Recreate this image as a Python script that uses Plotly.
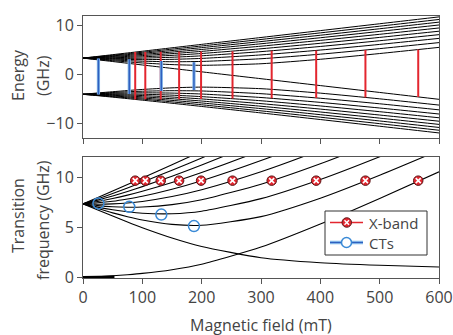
import plotly.graph_objects as go
from plotly.subplots import make_subplots

# ---------------- data ----------------
field_mT = [0, 25, 50, 75, 100, 150, 200, 300, 400, 500, 600]

# energy levels (GHz) – upper multiplet (11) and lower multiplet (9)
upper_levels = [
    [3.32, 2.97, 2.62, 2.27, 1.92, 1.22, 0.52, -0.88, -2.28, -3.68, -5.08],
    [3.32, 3.05, 2.79, 2.55, 2.33, 2.00, 1.85, 2.17, 3.08, 4.25, 5.51],
    [3.32, 3.12, 2.95, 2.80, 2.69, 2.58, 2.64, 3.19, 4.12, 5.25, 6.48],
    [3.32, 3.19, 3.10, 3.04, 3.01, 3.07, 3.26, 3.97, 4.96, 6.11, 7.34],
    [3.32, 3.27, 3.25, 3.26, 3.31, 3.49, 3.79, 4.64, 5.69, 6.86, 8.10],
    [3.32, 3.34, 3.39, 3.47, 3.58, 3.88, 4.26, 5.22, 6.34, 7.54, 8.80],
    [3.32, 3.41, 3.52, 3.66, 3.83, 4.23, 4.69, 5.75, 6.93, 8.17, 9.46],
    [3.32, 3.47, 3.65, 3.85, 4.07, 4.55, 5.08, 6.24, 7.47, 8.76, 10.07],
    [3.32, 3.54, 3.78, 4.03, 4.30, 4.86, 5.45, 6.69, 7.98, 9.30, 10.65],
    [3.32, 3.61, 3.90, 4.20, 4.51, 5.15, 5.79, 7.12, 8.46, 9.82, 11.19],
    [3.32, 3.67, 4.02, 4.37, 4.72, 5.42, 6.12, 7.52, 8.92, 10.32, 11.72],
]
lower_levels = [
    [-4.06, -3.78, -3.53, -3.29, -3.07, -2.74, -2.59, -2.91, -3.82, -4.98, -6.25],
    [-4.06, -3.86, -3.69, -3.54, -3.43, -3.32, -3.38, -3.93, -4.86, -5.99, -7.22],
    [-4.06, -3.93, -3.84, -3.78, -3.75, -3.81, -4.00, -4.71, -5.70, -6.85, -8.07],
    [-4.06, -4.00, -3.98, -4.00, -4.04, -4.23, -4.53, -5.37, -6.43, -7.60, -8.84],
    [-4.06, -4.07, -4.12, -4.20, -4.31, -4.61, -5.00, -5.96, -7.07, -8.28, -9.54],
    [-4.06, -4.14, -4.26, -4.40, -4.57, -4.96, -5.43, -6.49, -7.66, -8.91, -10.19],
    [-4.06, -4.21, -4.39, -4.59, -4.81, -5.29, -5.82, -6.97, -8.21, -9.49, -10.81],
    [-4.06, -4.28, -4.52, -4.77, -5.03, -5.60, -6.19, -7.43, -8.72, -10.04, -11.38],
    [-4.06, -4.34, -4.64, -4.94, -5.25, -5.88, -6.53, -7.85, -9.20, -10.56, -11.93],
]

# transition frequencies (GHz)
transitions = [
    [7.38, 8.01, 8.66, 9.31, 9.97, 11.30, 12.65, 15.37, 18.12, 20.88, 23.65],
    [7.38, 7.88, 8.42, 8.97, 9.55, 10.74, 11.98, 14.54, 17.18, 19.87, 22.58],
    [7.38, 7.75, 8.17, 8.62, 9.10, 10.15, 11.27, 13.66, 16.19, 18.80, 21.45],
    [7.38, 7.62, 7.91, 8.25, 8.64, 9.52, 10.51, 12.72, 15.14, 17.66, 20.26],
    [7.38, 7.48, 7.64, 7.87, 8.14, 8.84, 9.69, 11.71, 14.00, 16.45, 19.00],
    [7.38, 7.34, 7.37, 7.46, 7.62, 8.11, 8.79, 10.59, 12.76, 15.14, 17.64],
    [7.38, 7.20, 7.08, 7.04, 7.06, 7.30, 7.79, 9.35, 11.39, 13.71, 16.17],
    [7.38, 7.05, 6.78, 6.58, 6.44, 6.39, 6.64, 7.90, 9.82, 12.10, 14.56],
    [7.38, 6.91, 6.47, 6.09, 5.76, 5.32, 5.23, 6.10, 7.94, 10.24, 12.73],
    [7.38, 6.75, 6.15, 5.56, 4.99, 3.96, 3.11, 1.98, 1.48, 1.22, 1.05],
    [0.00, 0.08, 0.17, 0.28, 0.41, 0.78, 1.33, 3.05, 5.36, 7.92, 10.59],
]
low_field_B = [0, 25, 53]
low_field_f = [0.0, 0.02, 0.04]

# X-band (9.7 GHz) transitions
xband_B = [88, 105, 131, 162, 199, 252, 318, 393, 476, 565]
xband_f = [9.7] * 10
xband_low = [-5.10, -5.09, -5.10, -5.07, -5.00, -4.93, -4.87, -4.79, -4.69, -4.60]
xband_high = [4.55, 4.58, 4.64, 4.68, 4.69, 4.74, 4.81, 4.89, 4.97, 5.07]

# clock transitions
ct_B = [26, 78, 132, 187]
ct_f = [7.42, 7.08, 6.30, 5.15]
ct_low = [-4.08, -3.98, -3.40, -3.20]
ct_high = [3.22, 3.10, 2.75, 2.50]

legend_labels = ["X-band", "CTs"]

RED = "#e3262f"
DARKRED = "#5a1515"
BLUE_D = "#2f5fbf"
BLUE_L = "#7fb3e6"
CIRC = "#3a8ad6"
AX = "#555555"
FONT = "Open Sans"

W, H = 453, 335
ML, MR, MT, MB = 83, 14, 16, 57
PW, PH = W - ML - MR, H - MT - MB

fig = make_subplots(rows=2, cols=1, vertical_spacing=0.0)

# ---- top panel: energy levels ----
for lev in upper_levels + lower_levels:
    fig.add_trace(go.Scatter(x=field_mT, y=lev, mode="lines", line=dict(color="black", width=1, shape="spline", smoothing=0.6),
                             showlegend=False, hoverinfo="skip"), row=1, col=1)

def vsegs(bs, lo, hi):
    xs, ys = [], []
    for b, a, c in zip(bs, lo, hi):
        xs += [b, b, None]
        ys += [a, c, None]
    return xs, ys

xs, ys = vsegs(xband_B, xband_low, xband_high)
fig.add_trace(go.Scatter(x=xs, y=ys, mode="lines", line=dict(color=RED, width=2), showlegend=False, hoverinfo="skip"), row=1, col=1)
xs, ys = vsegs(ct_B, ct_low, ct_high)
fig.add_trace(go.Scatter(x=xs, y=ys, mode="lines", line=dict(color=BLUE_L, width=3.2), showlegend=False, hoverinfo="skip"), row=1, col=1)
fig.add_trace(go.Scatter(x=xs, y=ys, mode="lines", line=dict(color=BLUE_D, width=1.4), showlegend=False, hoverinfo="skip"), row=1, col=1)

# ---- bottom panel: transition frequencies ----
for tr in transitions:
    fig.add_trace(go.Scatter(x=field_mT, y=tr, mode="lines", line=dict(color="black", width=1.1, shape="spline", smoothing=0.6),
                             showlegend=False, hoverinfo="skip"), row=2, col=1)
fig.add_trace(go.Scatter(x=low_field_B, y=low_field_f, mode="lines", line=dict(color="black", width=3),
                         showlegend=False, hoverinfo="skip"), row=2, col=1)

fig.add_trace(go.Scatter(x=xband_B, y=xband_f, mode="markers",
                         marker=dict(symbol="circle", size=9.5, color=RED, line=dict(color=DARKRED, width=1)),
                         showlegend=False, hoverinfo="skip"), row=2, col=1)
fig.add_trace(go.Scatter(x=xband_B, y=xband_f, mode="markers",
                         marker=dict(symbol="x-thin", size=5, color="white", line=dict(color="white", width=1.6)),
                         showlegend=False, hoverinfo="skip"), row=2, col=1)
fig.add_trace(go.Scatter(x=ct_B, y=ct_f, mode="markers",
                         marker=dict(symbol="circle-open", size=11, color=CIRC, line=dict(width=1.5)),
                         showlegend=False, hoverinfo="skip"), row=2, col=1)

axis_common = dict(showline=True, mirror=True, linecolor=AX, linewidth=1, ticks="outside", ticklen=5,
                   tickcolor=AX, showgrid=False, zeroline=False, automargin=False,
                   tickfont=dict(family=FONT, size=16, color="#444"))
fig.update_xaxes(range=[0, 600], dtick=100, **axis_common)
fig.update_xaxes(showticklabels=False, row=1, col=1)
fig.update_yaxes(**axis_common)
fig.update_yaxes(range=[-12.9, 11.9], tickvals=[-10, 0, 10], row=1, col=1)
fig.update_yaxes(range=[-0.05, 12.1], tickvals=[0, 5, 10], row=2, col=1)

fig.layout.yaxis.domain = [0.5355, 1.0]
fig.layout.yaxis2.domain = [0.0, 0.463]

ann_font = dict(family=FONT, size=16, color="#444")
annots = [
    dict(text="Energy", x=-0.1826, y=0.7748, textangle=-90),
    dict(text="(GHz)", x=-0.1124, y=0.7748, textangle=-90),
    dict(text="Transition", x=-0.1826, y=0.2405, textangle=-90),
    dict(text="frequency (GHz)", x=-0.1124, y=0.2214, textangle=-90),
    dict(text="Magnetic field (mT)", x=0.5, y=-0.1794, textangle=0),
]
for a in annots:
    fig.add_annotation(xref="paper", yref="paper", showarrow=False, xanchor="center", yanchor="middle",
                       font=ann_font, **a)

# ---- hand-drawn legend (pixel layout -> paper coords) ----
def px(xp):
    return (xp - ML) / PW

def py(yp):
    return (MT + PH - yp) / PH

shapes = [dict(type="rect", xref="paper", yref="paper", x0=px(325), x1=px(427), y0=py(255), y1=py(211),
               line=dict(color="#333", width=1), fillcolor="white", layer="above")]
rows_y = [222.5, 242.5]
# X-band entry
shapes.append(dict(type="line", xref="paper", yref="paper", x0=px(330), x1=px(363), y0=py(rows_y[0]), y1=py(rows_y[0]),
                   line=dict(color=RED, width=1.5), layer="above"))
shapes.append(dict(type="circle", xref="paper", yref="paper", x0=px(342), x1=px(351.5), y0=py(rows_y[0] + 4.75),
                   y1=py(rows_y[0] - 4.75), line=dict(color=DARKRED, width=1), fillcolor=RED, layer="above"))
for s in (-1, 1):
    shapes.append(dict(type="line", xref="paper", yref="paper", x0=px(344.5), x1=px(349), y0=py(rows_y[0] - 2.25 * s),
                       y1=py(rows_y[0] + 2.25 * s), line=dict(color="white", width=1.5), layer="above"))
# CTs entry
shapes.append(dict(type="line", xref="paper", yref="paper", x0=px(330), x1=px(363), y0=py(rows_y[1]), y1=py(rows_y[1]),
                   line=dict(color=BLUE_L, width=3.5), layer="above"))
shapes.append(dict(type="line", xref="paper", yref="paper", x0=px(330), x1=px(363), y0=py(rows_y[1]), y1=py(rows_y[1]),
                   line=dict(color=BLUE_D, width=1.2), layer="above"))
shapes.append(dict(type="circle", xref="paper", yref="paper", x0=px(341.5), x1=px(351.5), y0=py(rows_y[1] + 5),
                   y1=py(rows_y[1] - 5), line=dict(color=CIRC, width=1.5), fillcolor="white", layer="above"))
for lbl, yy in zip(legend_labels, rows_y):
    fig.add_annotation(xref="paper", yref="paper", x=px(368), y=py(yy), text=lbl, showarrow=False, borderpad=0,
                       xanchor="left", yanchor="middle", font=dict(family=FONT, size=15, color="#444"))

fig.update_layout(
    width=W, height=H,
    margin=dict(l=ML, r=MR, t=MT, b=MB, autoexpand=False),
    paper_bgcolor="white", plot_bgcolor="white",
    showlegend=False,
    shapes=shapes,
)

fig.write_html("out.html", config={"displayModeBar": False},
               post_script="document.body.style.margin='0';document.body.style.overflow='hidden';")
